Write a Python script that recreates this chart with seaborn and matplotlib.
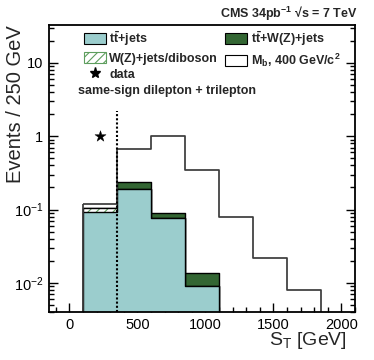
import numpy as np
import pandas as pd
import matplotlib
matplotlib.use("Agg")
import matplotlib.pyplot as plt
import seaborn as sns
from matplotlib.patches import Patch
from matplotlib.lines import Line2D
from matplotlib.ticker import FixedLocator, FixedFormatter, MultipleLocator, LogLocator, NullFormatter

# ---- data ----
bin_edges = [100, 350, 600, 850, 1100, 1350, 1600, 1850]
ttbar_jets = [0.093, 0.19, 0.076, 0.009, 0.0, 0.0, 0.0]
wz_jets_diboson = [0.012, 0.0, 0.0, 0.0, 0.0, 0.0, 0.0]
ttw_jets = [0.001, 0.044, 0.015, 0.0047, 0.0, 0.0, 0.0]
signal_mb400 = [0.12, 0.66, 1.0, 0.35, 0.079, 0.022, 0.008]
data_st = [225]
data_events = [1.0]
x_ticks = [0, 500, 1000, 1500, 2000]
y_ticks = [0.01, 0.1, 1, 10]
y_tick_labels = ["$10^{-2}$", "$10^{-1}$", "1", "10"]

# ---- style ----
sns.set_theme(style="ticks")
plt.rcParams["font.family"] = ["Liberation Sans", "DejaVu Sans"]
plt.rcParams["mathtext.fontset"] = "custom"
plt.rcParams["mathtext.rm"] = "Liberation Sans"
plt.rcParams["mathtext.it"] = "Liberation Sans:italic"
plt.rcParams["mathtext.bf"] = "Liberation Sans:bold"
plt.rcParams["hatch.linewidth"] = 0.8
plt.rcParams["hatch.color"] = "#5e9e5e"

TEAL = "#9bcdcd"
DKGREEN = "#336633"
HATCHGREEN = "#5e9e5e"

edges = [float(e) for e in bin_edges]
centers = [(a + b) / 2 for a, b in zip(edges[:-1], edges[1:])]
tt = np.array(ttbar_jets)
wz = np.array(wz_jets_diboson)
ttw = np.array(ttw_jets)
df = pd.DataFrame({
    "st": centers,
    "tt": tt,
    "tt_wz": tt + wz,
    "all": tt + wz + ttw,
    "signal": signal_mb400,
})

fig = plt.figure(figsize=(3.74, 3.6), dpi=100)
ax = fig.add_axes([0.131, 0.133, 0.818, 0.798])

def step(col, **kw):
    sns.histplot(data=df, x="st", weights=col, bins=edges, element="step",
                 ax=ax, **kw)

# stacked backgrounds (drawn top layer first)
step("all", fill=True, color=DKGREEN, alpha=1, edgecolor="black", linewidth=1.0)
step("tt_wz", fill=True, color="white", facecolor="white", alpha=1,
     edgecolor=HATCHGREEN, linewidth=0, hatch="////")
step("tt_wz", fill=True, color="black", facecolor="none", edgecolor="black",
     linewidth=1.0)
step("tt", fill=True, color=TEAL, alpha=1, edgecolor="black", linewidth=1.0)

# signal
step("signal", fill=True, color="#3c3c3c", facecolor="none",
     edgecolor="#3c3c3c", linewidth=1.25)

# data
sns.scatterplot(x=data_st, y=data_events, marker="*", s=70, color="black",
                edgecolor="black", linewidth=0.3, ax=ax, zorder=5)

ax.set_yscale("log")
ax.set_xlim(-150, 2100)
ax.set_ylim(0.004, 33)

# cut line
ax.vlines(350, 0.004, 2.2, colors="black", linestyles=(0, (1, 1)), linewidth=1.5)

# ticks
ax.xaxis.set_major_locator(FixedLocator(x_ticks))
ax.xaxis.set_minor_locator(MultipleLocator(100))
ax.yaxis.set_major_locator(FixedLocator(y_ticks))
ax.yaxis.set_major_formatter(FixedFormatter(y_tick_labels))
ax.yaxis.set_minor_locator(LogLocator(base=10, subs=np.arange(2, 10)))
ax.yaxis.set_minor_formatter(NullFormatter())
ax.tick_params(which="both", direction="in", right=True, top=False,
               labelsize=10.5, width=1.0, color="black", labelcolor="black")
ax.tick_params(which="major", length=6.5, pad=4)
ax.tick_params(which="minor", length=3.5)
for s in ax.spines.values():
    s.set_linewidth(1.3)
    s.set_color("black")

ax.set_ylabel("Events / 250 GeV", fontsize=14.5, loc="top")
ax.yaxis.set_label_coords(-0.08, 1.0)
ax.set_xlabel("S$_\\mathrm{T}$ [GeV]", fontsize=14, loc="right")
ax.xaxis.set_label_coords(0.975, -0.062)

# legend
handles = [
    Patch(facecolor=TEAL, edgecolor="black", linewidth=0.8),
    Patch(facecolor="white", edgecolor=HATCHGREEN, hatch="////", linewidth=0.8),
    Line2D([], [], marker="*", linestyle="none", color="black", markersize=8),
    Patch(facecolor=DKGREEN, edgecolor="black", linewidth=0.8),
    Patch(facecolor="white", edgecolor="black", linewidth=0.8),
]
labels = [
    "$\\mathbf{t\\bar{t}}$+jets",
    "W(Z)+jets/diboson",
    "data",
    "$\\mathbf{t\\bar{t}}$+W(Z)+jets",
    "M$_\\mathbf{b}$, 400 GeV/c$^\\mathbf{2}$",
]
leg = ax.legend(handles, labels, ncol=2, loc="upper left",
                bbox_to_anchor=(0.093, 1.006), frameon=False, borderpad=0,
                handlelength=1.76, handleheight=0.96, handletextpad=0.3,
                columnspacing=0.55, labelspacing=0.3,
                prop={"size": 9, "weight": "bold"})

ax.text(0.095, 0.770, "same-sign dilepton + trilepton", transform=ax.transAxes,
        fontsize=9, fontweight="bold", va="center", ha="left")

fig.text(0.955, 0.962, "CMS 34pb$^{\\mathbf{-1}}$ \u221as = 7 TeV", ha="right",
         va="center", fontsize=9, fontweight="bold")

fig.savefig("out.png", dpi=100)
